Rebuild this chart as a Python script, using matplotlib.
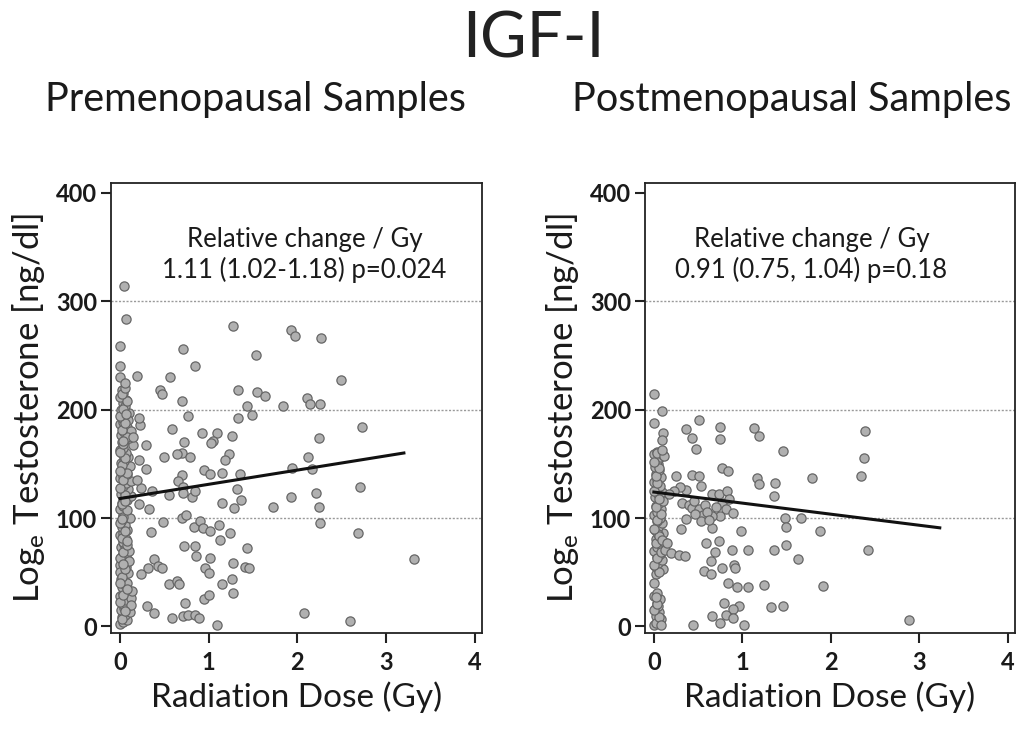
import matplotlib
matplotlib.use("Agg")
import matplotlib.pyplot as plt

plt.rcParams['font.family'] = ['Lato', 'DejaVu Sans']
plt.rcParams['mathtext.fontset'] = 'custom'
plt.rcParams['mathtext.rm'] = 'Lato'
plt.rcParams['mathtext.it'] = 'Lato'

# ---------------- data ----------------
title = "IGF-I"
panel_titles = ["Premenopausal Samples", "Postmenopausal Samples"]
annot_lines = [["Relative change / Gy", "1.11 (1.02-1.18) p=0.024"],
               ["Relative change / Gy", "0.91 (0.75, 1.04) p=0.18"]]
x_ticks = [0, 1, 2, 3, 4]
x_tick_labels = ["0", "1", "2", "3", "4"]
y_ticks = [0, 100, 200, 300, 400]
y_tick_labels = ["0", "100", "200", "300", "400"]
grid_y = [100, 200, 300]

# Premenopausal: cluster at ~0 Gy
pre_cluster_x = [0.00, 0.04, 0.08, 0.02, 0.06, 0.11, 0.01, 0.05, 0.09, 0.03, 0.07, 0.12, 0.00, 0.04, 0.14, 0.02,
                 0.06, 0.01, 0.05, 0.09, 0.03, 0.07, 0.00, 0.04, 0.08, 0.02, 0.06, 0.10, 0.01, 0.05, 0.03, 0.07,
                 0.00, 0.04, 0.08, 0.02, 0.06, 0.01, 0.05, 0.03, 0.07, 0.00, 0.04, 0.02, 0.08, 0.12, 0.01, 0.05,
                 0.09, 0.03, 0.07, 0.13, 0.00, 0.04, 0.08, 0.02, 0.06, 0.11, 0.01, 0.05, 0.09, 0.03, 0.07, 0.00,
                 0.04, 0.15, 0.02, 0.06, 0.10, 0.01, 0.05, 0.03, 0.08, 0.00, 0.04, 0.02, 0.06, 0.10, 0.01, 0.05,
                 0.03, 0.07, 0.00, 0.04, 0.02, 0.06, 0.09, 0.12, 0.00, 0.08, 0.12, 0.11, 0.10,
                 0.02, 0.06, 0.00, 0.04, 0.08, 0.02, 0.06, 0.00, 0.04, 0.08, 0.02, 0.06, 0.00, 0.04, 0.08, 0.02,
                 0.06, 0.00, 0.04, 0.08, 0.02, 0.06, 0.00, 0.04, 0.08, 0.02, 0.06, 0.00, 0.04, 0.08, 0.02, 0.06,
                 0.00, 0.04, 0.08, 0.02, 0.06, 0.00, 0.04, 0.07]
pre_cluster_y = [2, 4, 6, 9, 11, 13, 15, 17, 19, 21, 24, 26, 28, 31, 33, 36,
                 38, 44, 47, 49, 52, 55, 57, 60, 62, 65, 68, 70, 73, 76, 78, 81,
                 84, 86, 89, 92, 94, 97, 100, 103, 105, 108, 111, 114, 117, 120, 122, 125,
                 127, 130, 132, 134, 137, 139, 141, 144, 146, 148, 151, 153, 156, 158, 160, 163,
                 165, 167, 170, 172, 174, 177, 179, 182, 184, 187, 189, 192, 195, 197, 200, 203,
                 206, 209, 212, 215, 218, 203, 190, 180, 50, 40, 20, 100, 60,
                 7, 14, 23, 29, 35, 46, 53, 63, 69, 75, 82, 88, 95, 101, 107, 113,
                 121, 128, 135, 142, 149, 155, 161, 168, 175, 181, 188, 194, 201, 208, 214, 220,
                 40, 58, 79, 99, 116, 143, 171, 196]
# Premenopausal: scattered points
pre_x = [0.05, 0.07, 0.00, 0.00, 0.00, 0.06, 0.19, 0.45, 0.48, 0.56, 0.71, 0.85, 1.27, 0.70, 0.77, 0.59,
         0.92, 1.09, 1.05, 1.03, 1.26, 0.72, 0.70, 0.64, 0.79, 0.50, 0.29, 1.53, 1.33, 1.55, 1.64, 1.43,
         1.49, 1.33, 1.93, 1.97, 2.27, 2.49, 2.11, 2.14, 2.26, 1.84, 2.24, 2.73, 2.12, 1.94, 2.17, 1.23,
         1.18, 0.95, 1.02, 1.15, 1.35, 0.70, 0.65, 0.71, 0.71, 0.81, 0.85, 0.36, 0.55, 1.32, 1.36, 1.29,
         1.15, 1.72, 1.93, 2.21, 2.24, 2.25, 2.70, 2.68, 3.31, 0.22, 0.33, 0.24, 0.19, 0.29, 0.21, 0.15,
         0.23, 0.21, 0.49, 0.70, 0.75, 0.83, 0.90, 0.94, 1.02, 1.12, 1.13, 1.24, 0.35, 0.72, 0.85, 0.86,
         1.01, 1.43, 1.27, 1.41, 1.45, 0.96, 1.00, 0.38, 0.32, 0.43, 0.47, 0.24, 0.55, 0.64, 0.67, 1.15,
         1.26, 1.28, 0.95, 1.00, 0.73, 0.30, 0.39, 0.59, 0.71, 0.77, 0.85, 0.89, 1.09, 2.08, 2.59]
pre_y = [314, 284, 259, 240, 230, 225, 231, 218, 214, 230, 256, 240, 277, 208, 194, 182,
         178, 178, 171, 169, 176, 170, 160, 159, 156, 156, 167, 250, 218, 216, 213, 203,
         195, 192, 273, 268, 266, 227, 211, 205, 205, 203, 174, 184, 156, 146, 145, 159,
         154, 144, 141, 142, 141, 140, 134, 129, 123, 119, 125, 125, 121, 127, 117, 109,
         114, 110, 119, 123, 110, 95, 129, 86, 62, 113, 108, 128, 135, 145, 154, 175,
         186, 192, 96, 100, 103, 92, 97, 91, 88, 94, 80, 86, 87, 74, 74, 65,
         63, 72, 59, 55, 54, 54, 49, 62, 54, 56, 54, 48, 39, 42, 39, 39,
         44, 31, 25, 29, 22, 19, 12, 8, 10, 11, 11, 8, 1, 12, 5]
pre_fit_x = [0.0, 3.2]
pre_fit_y = [118, 160]

# Postmenopausal: cluster at ~0 Gy
post_cluster_x = [0.00, 0.04, 0.08, 0.02, 0.06, 0.01, 0.05, 0.03, 0.07, 0.00, 0.04, 0.02, 0.06, 0.10, 0.01, 0.05,
                  0.09, 0.03, 0.07, 0.00, 0.04, 0.08, 0.12, 0.02, 0.06, 0.10, 0.01, 0.05, 0.09, 0.03, 0.07, 0.00,
                  0.04, 0.08, 0.02, 0.06, 0.10, 0.01, 0.05, 0.09, 0.03, 0.07, 0.00, 0.04, 0.08, 0.02, 0.06, 0.01,
                  0.05, 0.03, 0.07, 0.00, 0.04, 0.10, 0.00, 0.05,
                  0.02, 0.06, 0.00, 0.04, 0.02, 0.06, 0.00, 0.04, 0.08, 0.02, 0.06, 0.00, 0.04, 0.08, 0.02, 0.06,
                  0.00, 0.04, 0.02, 0.06, 0.00, 0.03]
post_cluster_y = [1, 4, 7, 10, 13, 16, 19, 22, 25, 28, 31, 48, 51, 53, 56, 59,
                  61, 64, 67, 70, 73, 75, 78, 81, 84, 86, 89, 92, 95, 97, 100, 103,
                  106, 108, 111, 114, 116, 119, 122, 124, 127, 130, 133, 136, 138, 141, 144, 147,
                  150, 153, 156, 159, 161, 158, 40, 85,
                  3, 9, 15, 21, 27, 50, 57, 63, 69, 77, 83, 90, 98, 104, 110, 118,
                  125, 132, 139, 146, 152, 160]
# Postmenopausal: scattered points
post_x = [0.00, 0.09, 0.00, 0.10, 0.09, 0.36, 0.51, 0.43, 0.48, 0.75, 0.75, 1.13, 1.19, 1.46, 2.38, 2.37,
          2.34, 1.79, 1.37, 1.36, 1.17, 1.19, 0.77, 0.84, 0.25, 0.43, 0.51, 0.53, 0.36, 0.30, 0.23, 0.17,
          0.32, 0.40, 0.43, 0.51, 0.55, 0.53, 0.66, 0.74, 0.83, 0.77, 0.81, 0.89, 0.75, 0.66, 0.58, 0.36,
          0.31, 0.66, 0.98, 1.48, 1.49, 1.66, 1.88, 0.59, 0.74, 0.69, 0.88, 1.06, 1.36, 1.49, 1.63, 2.42,
          0.64, 0.57, 0.64, 0.77, 0.91, 0.92, 0.84, 0.94, 1.06, 1.25, 1.91, 0.79, 0.96, 0.89, 0.81, 0.75,
          0.66, 0.89, 1.02, 1.32, 1.46, 0.44, 2.88, 0.08, 0.13, 0.19, 0.28, 0.35, 0.09, 0.15, 0.11, 0.09,
          0.45, 0.60, 0.70, 0.85, 0.62, 0.47]
post_y = [214, 199, 188, 178, 172, 182, 190, 174, 164, 184, 173, 183, 176, 162, 180, 155,
          139, 137, 132, 120, 137, 131, 146, 143, 139, 140, 139, 130, 126, 129, 125, 122,
          114, 112, 109, 108, 103, 97, 122, 122, 125, 114, 108, 105, 102, 102, 112, 99,
          90, 91, 88, 100, 92, 100, 88, 77, 79, 69, 71, 71, 71, 75, 62, 71,
          60, 51, 48, 54, 57, 54, 40, 36, 36, 38, 37, 22, 19, 16, 11, 3,
          10, 8, 1, 18, 19, 1, 6, 1, 71, 68, 66, 65, 80, 77, 157, 163,
          116, 106, 110, 118, 98, 104]
post_fit_x = [0.0, 3.23]
post_fit_y = [124, 91]

# ---------------- figure ----------------
W, H = 1017, 732
fig = plt.figure(figsize=(W / 100, H / 100), dpi=100)
ax_rects = [[111 / W, (H - 633) / H, (482 - 111) / W, (633 - 183) / H],
            [645 / W, (H - 633) / H, (1015 - 645) / W, (633 - 183) / H]]

panels = [(pre_cluster_x + pre_x, pre_cluster_y + pre_y, pre_fit_x, pre_fit_y),
          (post_cluster_x + post_x, post_cluster_y + post_y, post_fit_x, post_fit_y)]

text_color = '#1a1a1a'
annot_x = [2.08, 1.78]

for i, (rect, (xs, ys, fx, fy)) in enumerate(zip(ax_rects, panels)):
    ax = fig.add_axes(rect)
    ax.set_xlim(-0.1, 4.08)
    ax.set_ylim(-6, 409)
    for gy in grid_y:
        ax.axhline(gy, color='#9a9a9a', lw=1.0, ls=(0, (1.5, 1.2)), zorder=0)
    ax.scatter(xs, ys, s=44, facecolor='#b0b0b0', edgecolor='#666666', linewidths=0.9, zorder=2)
    ax.plot(fx, fy, color='#111111', lw=2.2, zorder=3)
    for sp in ax.spines.values():
        sp.set_linewidth(1.3)
        sp.set_color('#222222')
    ax.set_xticks(x_ticks)
    ax.set_xticklabels(x_tick_labels)
    ax.set_yticks(y_ticks)
    ax.set_yticklabels(y_tick_labels)
    ax.tick_params(direction='out', length=7, width=1.5, color='#222222',
                   labelsize=17, labelcolor=text_color, pad=3)
    ax.tick_params(axis='x', pad=6)
    for lab in ax.get_xticklabels() + ax.get_yticklabels():
        lab.set_fontweight('bold')
    ax.set_xlabel("Radiation Dose (Gy)", fontsize=24, color=text_color)
    ax.xaxis.set_label_coords(0.5, -0.108)
    ax.set_ylabel(r"Log$_\mathregular{e}$ Testosterone [ng/dl]", fontsize=25, color=text_color)
    ax.yaxis.set_label_coords(-0.172, 0.5)
    ax.text(annot_x[i], 357, annot_lines[i][0], ha='center', va='center', fontsize=18.5, color=text_color)
    ax.text(annot_x[i], 329, annot_lines[i][1], ha='center', va='center', fontsize=18.5, color=text_color)

fig.text(533 / W, 1 - 40 / H, title, ha='center', va='center', fontsize=46, color='#222222')
fig.text(255 / W, 1 - 100 / H, panel_titles[0], ha='center', va='center', fontsize=28.5, color=text_color)
fig.text(792 / W, 1 - 100 / H, panel_titles[1], ha='center', va='center', fontsize=28.5, color=text_color)

fig.savefig("out.png", dpi=100)
